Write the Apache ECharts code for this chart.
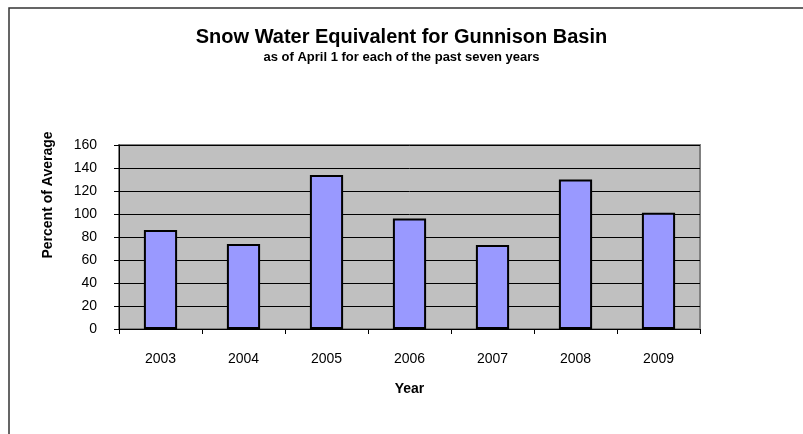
<!DOCTYPE html>
<html>
<head>
<meta charset="utf-8">
<script src="https://cdn.jsdelivr.net/npm/echarts@6/dist/echarts.min.js"></script>
<style>
  html, body { margin: 0; padding: 0; background: #fff; }
  #chart { width: 803px; height: 434px; }
</style>
</head>
<body>
<div id="chart"></div>
<script>
// Snow water equivalent, percent of average, as of April 1
const years = ['2003', '2004', '2005', '2006', '2007', '2008', '2009'];
const percentOfAverage = [86, 74, 134, 96, 73, 130, 101];
const yTicks = { min: 0, max: 160, interval: 20 };

const FONT = '"Liberation Sans", Arial, sans-serif';
const chart = echarts.init(document.getElementById('chart'), null, { renderer: 'canvas' });

chart.setOption({
  backgroundColor: '#ffffff',
  animation: false,
  title: {
    text: 'Snow Water Equivalent for Gunnison Basin',
    subtext: 'as of April 1 for each of the past seven years',
    left: 'center',
    top: 22,
    itemGap: 4,
    textStyle: { fontFamily: FONT, fontSize: 20, fontWeight: 'bold', color: '#000' },
    subtextStyle: { fontFamily: FONT, fontSize: 13, fontWeight: 'bold', color: '#000' }
  },
  graphic: [{
    type: 'rect',
    shape: { x: 9, y: 8, width: 900, height: 500 },
    style: { fill: 'none', stroke: '#333', lineWidth: 1.5 },
    silent: true
  }, {
    // vertical axis title, set a little above the axis middle
    type: 'text',
    x: 48,
    y: 195,
    rotation: Math.PI / 2,
    style: {
      text: 'Percent of Average',
      font: 'bold 14px ' + FONT,
      fill: '#000',
      align: 'center',
      verticalAlign: 'middle'
    },
    silent: true
  }],
  grid: {
    left: 119, top: 145, right: 103, bottom: 105,
    show: true,
    backgroundColor: '#c0c0c0',
    borderColor: '#808080',
    borderWidth: 2
  },
  xAxis: {
    type: 'category',
    data: years,
    name: 'Year',
    nameLocation: 'middle',
    nameGap: 53,
    nameTextStyle: { fontFamily: FONT, fontSize: 14, fontWeight: 'bold', color: '#000' },
    axisLine: { lineStyle: { color: '#000', width: 1 } },
    axisTick: { show: true, length: 5, lineStyle: { color: '#000' } },
    axisLabel: { fontFamily: FONT, fontSize: 14, color: '#000', margin: 23 }
  },
  yAxis: {
    type: 'value',
    min: yTicks.min,
    max: yTicks.max,
    interval: yTicks.interval,
    axisLine: { show: true, lineStyle: { color: '#000', width: 1 } },
    axisTick: { show: true, length: 5, lineStyle: { color: '#000' } },
    axisLabel: { fontFamily: FONT, fontSize: 14, color: '#000', margin: 22 },
    splitLine: { show: true, lineStyle: { color: '#000', width: 1 } }
  },
  series: [{
    type: 'bar',
    data: percentOfAverage,
    barWidth: '40%',
    itemStyle: { color: '#9999ff', borderColor: '#000', borderWidth: 2 }
  }]
});
</script>
</body>
</html>
